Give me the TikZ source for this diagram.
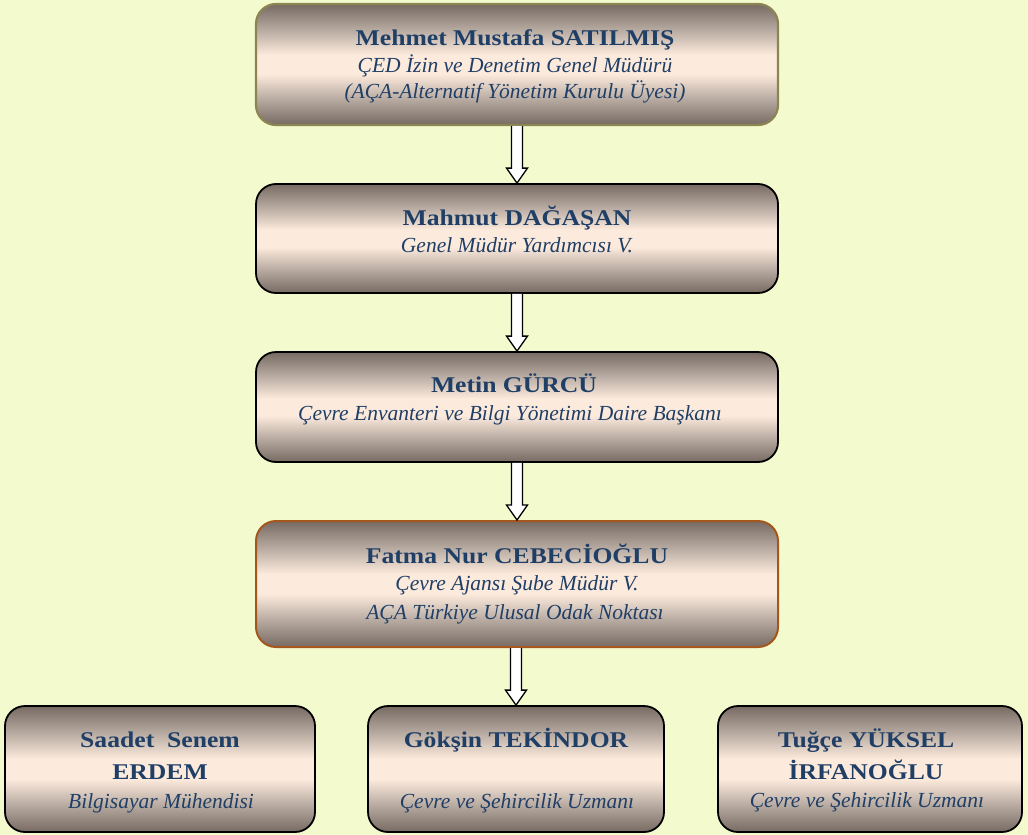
\documentclass[tikz,border=0pt]{standalone}
\usepackage{fontspec}
\setmainfont{Liberation Serif}
\newfontfamily\namefont[FakeStretch=1.14]{Liberation Serif}
\usetikzlibrary{calc}
\definecolor{bg}{HTML}{F3FBCE}
\definecolor{bdk}{HTML}{766A62}
\definecolor{bmd}{HTML}{B3A69D}
\definecolor{blt}{HTML}{FCEADC}
\definecolor{txt}{HTML}{203F66}
\definecolor{olivebd}{HTML}{8C8552}
\definecolor{rustbd}{HTML}{A5561C}
\pgfdeclareverticalshading{boxshade}{100bp}{color(0bp)=(bdk); color(25bp)=(bdk); color(35bp)=(bmd); color(46bp)=(blt); color(54bp)=(blt); color(65bp)=(bmd); color(75bp)=(bdk); color(100bp)=(bdk)}
\tikzset{
  box/.style={rectangle, rounded corners=20pt, shading=boxshade, draw=black, line width=1.8pt, inner sep=0pt},
  nm/.style={anchor=base, text=txt, font=\namefont\bfseries\fontsize{22.5}{26}\selectfont, inner sep=0pt},
  ti/.style={anchor=base, text=txt, font=\itshape\fontsize{21.5}{25}\selectfont, inner sep=0pt},
  barrow/.style={draw=black, fill=white, line width=1.3pt, line join=miter}
}
\newcommand\blockarr[2]{%
  \draw[barrow] ($(#2.north |- #1.south)+(-5.5,0)$) -- ($(#2.north)+(-5.5,-15)$) -- ($(#2.north)+(-10.5,-15)$) -- (#2.north) -- ($(#2.north)+(10.5,-15)$) -- ($(#2.north)+(5.5,-15)$) -- ($(#2.north |- #1.south)+(5.5,0)$);}
\begin{document}
\begin{tikzpicture}[x=1pt,y=-1pt]
\fill[bg] (0,0) rectangle (1028,835);
\useasboundingbox (0,0) rectangle (1028,835);
% boxes
\node[box, draw=olivebd, line width=2.2pt, minimum width=522pt, minimum height=121pt] (b1) at (517,64.5) {};
\node[box, minimum width=522pt, minimum height=109pt] (b2) at (517,238.5) {};
\node[box, minimum width=522pt, minimum height=110pt] (b3) at (517,407) {};
\node[box, draw=rustbd, line width=2pt, minimum width=522pt, minimum height=126pt] (b4) at (517,584) {};
\node[box, minimum width=310pt, minimum height=126pt] (b5) at (160,769) {};
\node[box, minimum width=296pt, minimum height=126pt] (b6) at (516,769) {};
\node[box, minimum width=304pt, minimum height=126pt] (b7) at (870,769) {};
% texts
\node[nm] (t1a) at (515,45) {Mehmet Mustafa SATILMIŞ};
\node[ti] (t1b) at (515,72) {ÇED İzin ve Denetim Genel Müdürü};
\node[ti] (t1c) at (515,98) {(AÇA-Alternatif Yönetim Kurulu Üyesi)};
\node[nm] (t2a) at (517,225) {Mahmut DAĞAŞAN};
\node[ti] (t2b) at (517,252) {Genel Müdür Yardımcısı V.};
\node[nm] (t3a) at (514,392) {Metin GÜRCÜ};
\node[ti] (t3b) at (510,420) {Çevre Envanteri ve Bilgi Yönetimi Daire Başkanı};
\node[nm] (t4a) at (517,563) {Fatma Nur CEBECİOĞLU};
\node[ti] (t4b) at (517,590) {Çevre Ajansı Şube Müdür V.};
\node[ti] (t4c) at (515,619) {AÇA Türkiye Ulusal Odak Noktası};
\node[nm] (t5a) at (160,747) {Saadet\ \ Senem};
\node[nm] (t5b) at (160,779) {ERDEM};
\node[ti] (t5c) at (161,808) {Bilgisayar Mühendisi};
\node[nm] (t6a) at (516,747) {Gökşin TEKİNDOR};
\node[ti] (t6b) at (517,808) {Çevre ve Şehircilik Uzmanı};
\node[nm] (t7a) at (866,747) {Tuğçe YÜKSEL};
\node[nm] (t7b) at (866,779) {İRFANOĞLU};
\node[ti] (t7c) at (867,807) {Çevre ve Şehircilik Uzmanı};
% arrows
\blockarr{b1}{b2}
\blockarr{b2}{b3}
\blockarr{b3}{b4}
\blockarr{b4}{b6}
\end{tikzpicture}
\end{document}
